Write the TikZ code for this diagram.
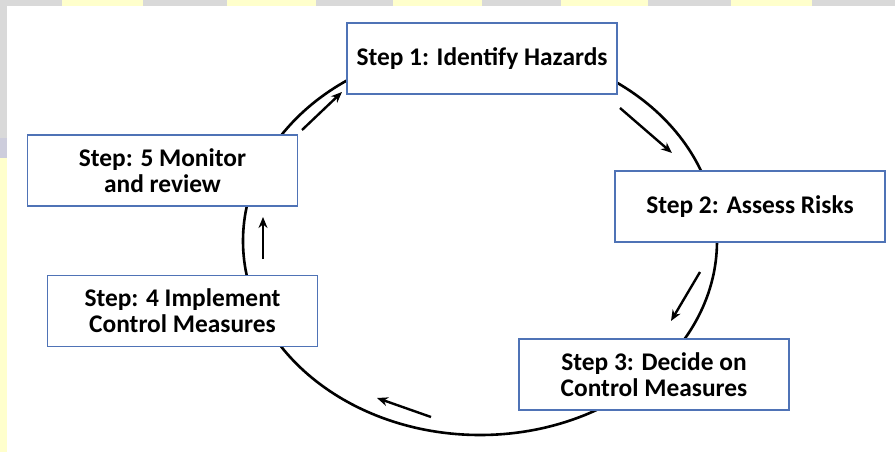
\documentclass[tikz,border=0pt]{standalone}
\usepackage{fontspec}
\setmainfont{Carlito}
\usepackage{tikz}
\usetikzlibrary{arrows.meta}
\definecolor{frame}{HTML}{4F73B6}
\definecolor{paleyellow}{HTML}{FFFFCC}
\definecolor{panelgray}{HTML}{D9D9D9}
\definecolor{bandgray}{HTML}{CDCDDC}
\tikzset{
  stepbox/.style={draw=frame, fill=white, line width=1.4pt, minimum width=270pt,
    minimum height=71pt, align=center, inner sep=0pt,
    font=\fontsize{25.4}{26}\selectfont\bfseries},
  cycle/.style={draw=black, line width=2.6pt},
  flow/.style={draw=black, line width=2.4pt, -{Stealth[length=11pt,width=9pt]}},
}
\begin{document}
\begin{tikzpicture}[x=1pt,y=-1pt]
  \useasboundingbox (0,0) rectangle (895,452);
  \fill[white] (0,0) rectangle (895,452);
  % slide edges
  \fill[panelgray] (0,0) rectangle (895,6);
  \foreach \a/\b in {62/143,227/316,393/482,561/648,731/812}
    \fill[paleyellow] (\a,0) rectangle (\b,6);
  \fill[panelgray] (0,0) rectangle (7,138);
  \fill[bandgray] (0,138) rectangle (7,158);
  \fill[paleyellow] (0,158) rectangle (7,452);

  \draw[cycle] (480,241) ellipse (237 and 194);

  \node[stepbox] (identify) at (482,58.5) {Step 1: Identify Hazards};
  \node[stepbox] (assess) at (750,206.5) {Step 2: Assess Risks};
  \node[stepbox] (decide) at (654,374.5) {Step 3: Decide on\\Control Measures};
  \node[stepbox] (implement) at (182.5,311) {Step: 4 Implement\\Control Measures};
  \node[stepbox] (monitor) at (162.5,170.5) {Step: 5 Monitor\\and review};

  \coordinate (a1s) at (302,130); \coordinate (a1e) at (342,92);
  \coordinate (a2s) at (620,108); \coordinate (a2e) at (672,153);
  \coordinate (a3s) at (700,272); \coordinate (a3e) at (671,321);
  \coordinate (a4s) at (431,417); \coordinate (a4e) at (377,398);
  \coordinate (a5s) at (263,259); \coordinate (a5e) at (263,217);
  \foreach \A in {a1,a2,a3,a4,a5}
    \draw[flow] (\A s) -- (\A e);
\end{tikzpicture}
\end{document}
